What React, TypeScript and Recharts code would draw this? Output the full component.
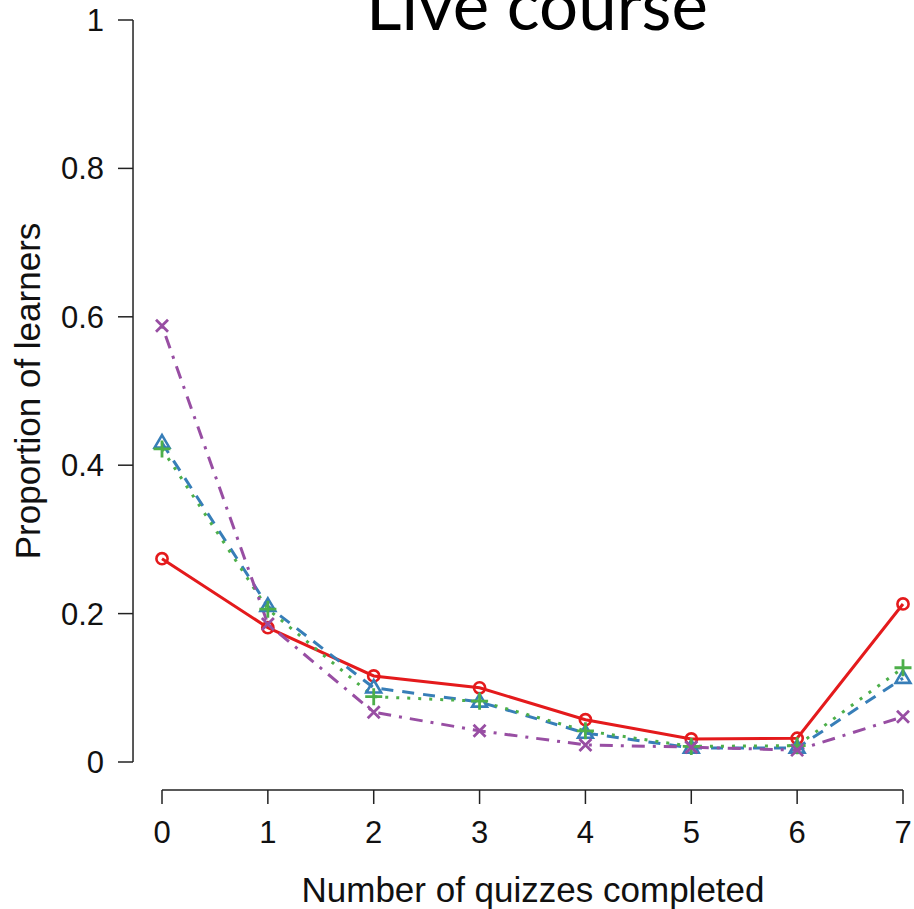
import React from "react";
import { LineChart, Line, XAxis, YAxis, ReferenceLine } from "recharts";

// quizzes completed (0..7)
const quizzes = [0, 1, 2, 3, 4, 5, 6, 7];

// proportion of learners per group
const redSeries = [0.274, 0.181, 0.116, 0.1, 0.057, 0.031, 0.032, 0.213];
const blueSeries = [0.43, 0.21, 0.1, 0.081, 0.039, 0.019, 0.019, 0.113];
const greenSeries = [0.422, 0.206, 0.088, 0.082, 0.042, 0.021, 0.022, 0.127];
const purpleSeries = [0.588, 0.186, 0.067, 0.042, 0.023, 0.02, 0.016, 0.061];

const xTicks = [0, 1, 2, 3, 4, 5, 6, 7];
const yTicks = [0, 0.2, 0.4, 0.6, 0.8, 1];

const data = quizzes.map((q, i) => ({
  q,
  red: redSeries[i],
  blue: blueSeries[i],
  green: greenSeries[i],
  purple: purpleSeries[i],
}));

const RED = "#E41A1C";
const BLUE = "#377EB8";
const GREEN = "#4DAF4A";
const PURPLE = "#984EA3";

const FONT = "'Liberation Sans', Arial, sans-serif";

// R-style detached axes: lines sit a bit outside the data range
const X_AXIS_AT = -28 / 742;
const Y_AXIS_AT = -29 / 105.9;

function CircleDot({ cx, cy, index }: any) {
  return <circle key={index} cx={cx} cy={cy} r={5.6} fill="none" stroke={RED} strokeWidth={2.6} />;
}

function TriangleDot({ cx, cy, index }: any) {
  const s = 7.8;
  return (
    <path
      key={index}
      d={`M${cx},${cy - s} L${cx + s * 0.95},${cy + s * 0.6} L${cx - s * 0.95},${cy + s * 0.6} Z`}
      fill="none"
      stroke={BLUE}
      strokeWidth={2.6}
    />
  );
}

function PlusDot({ cx, cy, index }: any) {
  const s = 8.5;
  return (
    <path
      key={index}
      d={`M${cx - s},${cy} L${cx + s},${cy} M${cx},${cy - s} L${cx},${cy + s}`}
      stroke={GREEN}
      strokeWidth={2.8}
    />
  );
}

function CrossDot({ cx, cy, index }: any) {
  const s = 6;
  return (
    <path
      key={index}
      d={`M${cx - s},${cy - s} L${cx + s},${cy + s} M${cx - s},${cy + s} L${cx + s},${cy - s}`}
      stroke={PURPLE}
      strokeWidth={2.8}
    />
  );
}

export default function App() {
  return (
    <div style={{ position: "absolute", left: 0, top: 0, width: 914, height: 909, background: "#fff" }}>
      <LineChart width={914} height={909} data={data} margin={{ top: 20, right: 11, left: 0, bottom: 0 }}>
        <XAxis
          dataKey="q"
          type="number"
          domain={[0, 7]}
          ticks={xTicks}
          padding={{ left: 29, right: 0 }}
          axisLine={false}
          tickLine={{ stroke: "#222", strokeWidth: 1.5 }}
          tickSize={14}
          tickMargin={17}
          height={119}
          tick={{ fontSize: 31, fill: "#111", fontFamily: FONT }}
          interval={0}
        />
        <YAxis
          type="number"
          domain={[0, 1]}
          ticks={yTicks}
          padding={{ top: 0, bottom: 28 }}
          axisLine={false}
          tickLine={{ stroke: "#222", strokeWidth: 1.5 }}
          tickSize={15}
          tickMargin={14}
          width={133}
          tick={{ fontSize: 31, fill: "#111", fontFamily: FONT }}
          interval={0}
        />
        <ReferenceLine
          segment={[{ x: 0, y: X_AXIS_AT }, { x: 7, y: X_AXIS_AT }]}
          stroke="#222"
          strokeWidth={1.5}
          ifOverflow="visible"
        />
        <ReferenceLine
          segment={[{ x: Y_AXIS_AT, y: 0 }, { x: Y_AXIS_AT, y: 1 }]}
          stroke="#222"
          strokeWidth={1.5}
          ifOverflow="visible"
        />
        <Line dataKey="red" stroke={RED} strokeWidth={3} dot={CircleDot} isAnimationActive={false} />
        <Line
          dataKey="blue"
          stroke={BLUE}
          strokeWidth={3}
          strokeDasharray="12 9"
          dot={TriangleDot}
          isAnimationActive={false}
        />
        <Line
          dataKey="green"
          stroke={GREEN}
          strokeWidth={3}
          strokeDasharray="3 8"
          dot={PlusDot}
          isAnimationActive={false}
        />
        <Line
          dataKey="purple"
          stroke={PURPLE}
          strokeWidth={3}
          strokeDasharray="3 8 13 8"
          dot={CrossDot}
          isAnimationActive={false}
        />
        <text x={537} y={30} textAnchor="middle" fontFamily="Lato, sans-serif" fontSize={69} fill="#000">
          Live course
        </text>
        <text x={533} y={902} textAnchor="middle" fontFamily={FONT} fontSize={35} fill="#111">
          Number of quizzes completed
        </text>
        <text
          x={0}
          y={0}
          transform="translate(40,391) rotate(-90)"
          textAnchor="middle"
          fontFamily={FONT}
          fontSize={35}
          fill="#111"
        >
          Proportion of learners
        </text>
      </LineChart>
    </div>
  );
}
